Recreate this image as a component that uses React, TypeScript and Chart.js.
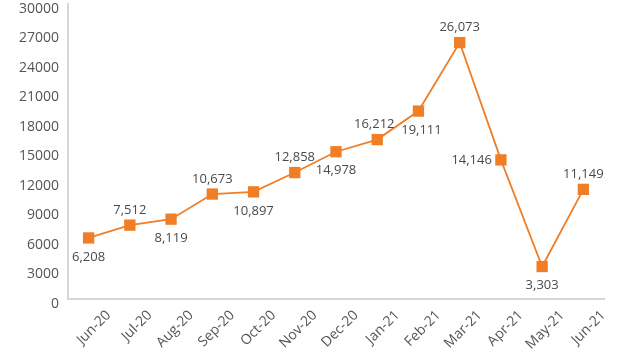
import React, { useEffect, useRef } from "react";
import { Chart, registerables } from "chart.js";

Chart.register(...registerables);

const categories = ["Jun-20", "Jul-20", "Aug-20", "Sep-20", "Oct-20", "Nov-20", "Dec-20", "Jan-21", "Feb-21", "Mar-21", "Apr-21", "May-21", "Jun-21"];
const values = [6208, 7512, 8119, 10673, 10897, 12858, 14978, 16212, 19111, 26073, 14146, 3303, 11149];
const labelPlacement = ["below", "above", "below", "above", "below", "above", "below", "above", "below", "above", "left", "below", "above"];
const yMin = 0;
const yMax = 30000;
const yStep = 3000;

const FONT = "'Open Sans', Lato, sans-serif";
const ORANGE = "#F07E26";

const valueLabels = {
  id: "valueLabels",
  afterDatasetsDraw(chart: any) {
    const ctx = chart.ctx;
    const meta = chart.getDatasetMeta(0);
    ctx.save();
    ctx.font = `13px ${FONT}`;
    ctx.fillStyle = "#4a4a4a";
    ctx.textBaseline = "middle";
    meta.data.forEach((pt: any, i: number) => {
      const text = values[i].toLocaleString("en-US");
      const pos = labelPlacement[i];
      let x = pt.x;
      let y = pt.y;
      ctx.textAlign = "center";
      if (pos === "above") y -= 15;
      else if (pos === "below") y += 19;
      else if (pos === "left") {
        ctx.textAlign = "right";
        x -= 9;
      }
      if (pos === "below" && i === 8) x += 3;
      if (pos === "above" && i === 7) x -= 3;
      ctx.fillText(text, x, y);
    });
    ctx.restore();
  },
};

export default function App() {
  const ref = useRef<HTMLCanvasElement>(null);
  useEffect(() => {
    if (!ref.current) return;
    const chart = new Chart(ref.current, {
      type: "line",
      data: {
        labels: categories,
        datasets: [
          {
            data: values,
            borderColor: ORANGE,
            backgroundColor: ORANGE,
            borderWidth: 1.8,
            pointStyle: "rect",
            pointRadius: 8,
            pointBorderWidth: 0,
            pointBackgroundColor: ORANGE,
            tension: 0,
            clip: false,
          },
        ],
      },
      options: {
        animation: false,
        responsive: false,
        maintainAspectRatio: false,
        layout: { autoPadding: false, padding: { top: 4, right: 38, left: 0, bottom: 0 } },
        plugins: { legend: { display: false }, tooltip: { enabled: false } },
        scales: {
          x: {
            offset: true,
            grid: { display: false, drawTicks: false },
            border: { display: true, color: "#d6d6d6", width: 2 },
            ticks: {
              color: "#555",
              font: { family: FONT, size: 14 },
              maxRotation: 45,
              minRotation: 45,
              padding: 8,
              labelOffset: 20,
              autoSkip: false,
            },
            afterFit: (s: any) => {
              s.height = 62;
              s.paddingLeft = 0;
              s.paddingRight = 0;
            },
          },
          y: {
            min: yMin,
            max: yMax,
            grid: { display: false, drawTicks: false },
            border: { display: true, color: "#d6d6d6", width: 2 },
            ticks: {
              stepSize: yStep,
              color: "#555",
              font: { family: FONT, size: 14, lineHeight: 0.5 },
              padding: 9,
              labelOffset: 5,
              callback: (v: any) => String(v),
            },
            afterFit: (s: any) => {
              s.width = 68;
              s.paddingTop = 0;
              s.paddingBottom = 0;
            },
          },
        },
      },
      plugins: [valueLabels],
    });
    return () => chart.destroy();
  }, []);
  return (
    <div style={{ position: "fixed", left: 0, top: 0, width: 642, height: 361, background: "#fff" }}>
      <canvas ref={ref} width={642} height={361} style={{ width: 642, height: 361 }} />
    </div>
  );
}
